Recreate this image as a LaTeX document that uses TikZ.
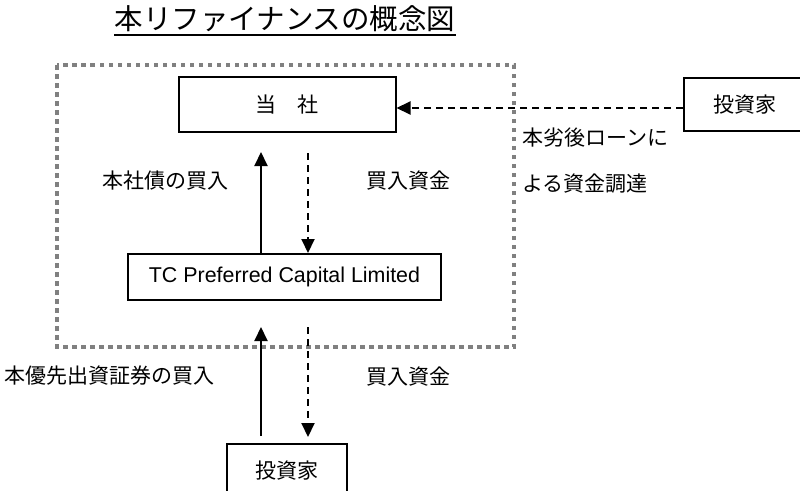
\documentclass[tikz,border=0pt]{standalone}
\usepackage{fontspec}
\newfontfamily\jp{Noto Sans CJK JP}
\newfontfamily\arial{Liberation Sans}
\usetikzlibrary{arrows.meta}
\begin{document}
\begin{tikzpicture}[x=1pt,y=-1pt,
  boxnode/.style={draw,line width=2pt,inner sep=0pt,font=\jp\fontsize{21}{24}\selectfont},
  lbl/.style={inner sep=0pt,font=\jp\fontsize{21}{24}\selectfont},
  arr/.style={line width=2pt,-{Triangle[length=14pt,width=13pt]}},
  darr/.style={arr,dash pattern=on 7pt off 5pt},
  dotborder/.style={draw=black!50,line width=4.5pt,dash pattern=on 4.5pt off 4.5pt}
]
\useasboundingbox (0,0) rectangle (800,490);
% title
\node[inner sep=0pt,font=\jp\fontsize{28.5}{30}\selectfont] (title) at (285,19) {本リファイナンスの概念図};
\draw[line width=2pt] ([yshift=-3pt]title.south west) -- ([yshift=-3pt]title.south east);
% dotted border
\draw[dotborder] (57,65) rectangle (514,347);
% boxes
\node[boxnode,minimum width=217pt,minimum height=55pt] (top) at (287,104.5) {当　社};
\node[boxnode,minimum width=313pt,minimum height=46pt,font=\arial\fontsize{21.4}{24}\selectfont] (tc) at (284.5,277) {TC Preferred Capital Limited};
\node[boxnode,minimum width=122pt,minimum height=53pt] (inv1) at (745,104.5) {投資家};
\node[boxnode,minimum width=120pt,minimum height=53pt] (inv2) at (287,470.5) {投資家};
% labels
\node[lbl] (l1) at (165,181) {本社債の買入};
\node[lbl] (l2) at (408,181) {買入資金};
\node[lbl,anchor=west] (l3) at (522,138) {本劣後ローンに};
\node[lbl,anchor=west] (l4) at (522,184) {よる資金調達};
\node[lbl] (l5) at (110,376) {本優先出資証券の買入};
\node[lbl] (l6) at (408,377) {買入資金};
% coordinates
\coordinate (a1) at (261,152);
\coordinate (a2) at (308,153);
\coordinate (b1s) at (261,436);
\coordinate (b1e) at (261,327);
\coordinate (b2s) at (308,327);
\coordinate (b2e) at (308,437);
\coordinate (h) at (0,108);
% arrows
\draw[arr] (tc.north -| a1) -- (a1);
\draw[darr] (a2) -- (tc.north -| a2);
\draw[arr] (b1s) -- (b1e);
\draw[darr] (b2s) -- (b2e);
\draw[darr] (inv1.west |- h) -- (top.east |- h);
\end{tikzpicture}
\end{document}
